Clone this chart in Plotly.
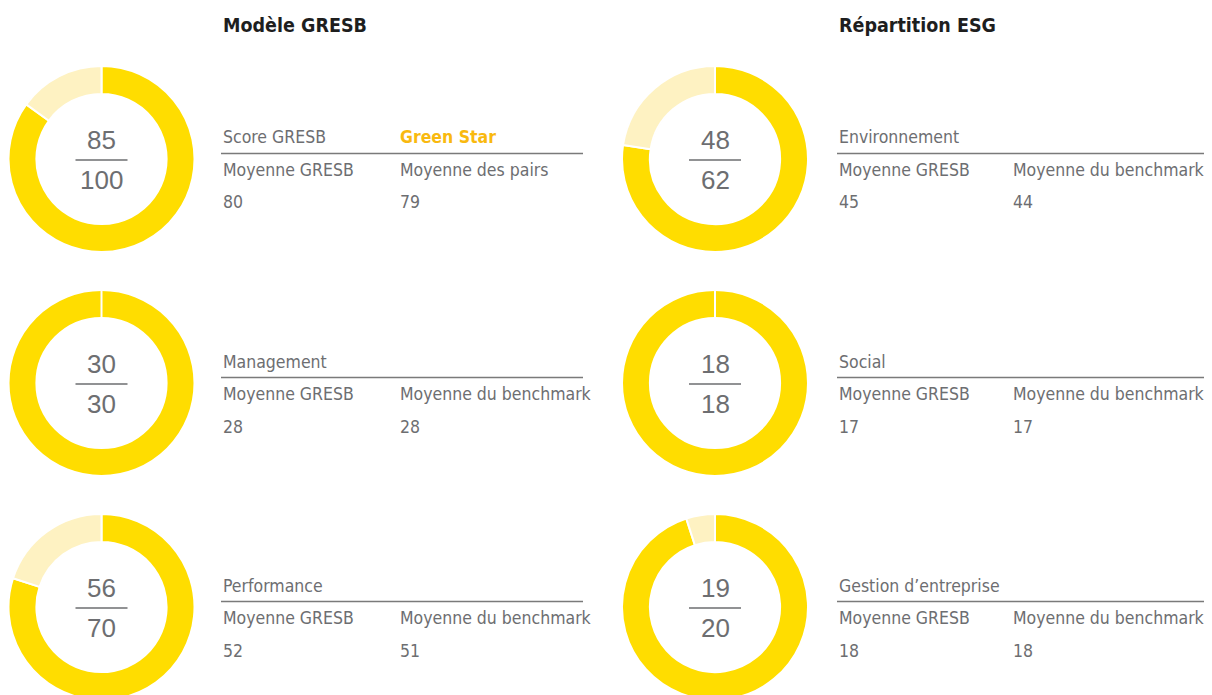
import plotly.graph_objects as go

# page body adds an 8px margin; the figure is offset by it
OX, OY = 8, 8
FW, FH = 1204, 710

# ---- data ----
panel_titles = ["Modèle GRESB", "Répartition ESG"]
left_names = ["Score GRESB", "Management", "Performance"]
left_scores = [85, 30, 56]
left_max = [100, 30, 70]
left_gresb_avg = [80, 28, 52]
left_bench_avg = [79, 28, 51]
left_col2_headers = ["Moyenne des pairs", "Moyenne du benchmark", "Moyenne du benchmark"]

right_names = ["Environnement", "Social", "Gestion d\u2019entreprise"]
right_scores = [48, 18, 19]
right_max = [62, 18, 20]
right_gresb_avg = [45, 17, 18]
right_bench_avg = [44, 17, 18]
right_col2_headers = ["Moyenne du benchmark", "Moyenne du benchmark", "Moyenne du benchmark"]

rating_label = "Green Star"
col1_header = "Moyenne GRESB"

# ---- style ----
YELLOW = "#FFDD00"
LIGHT = "#FEF2C2"
GRAY = "#6D6E71"
DARK = "#1E1E1E"
GOLD = "#F9B90F"
NARROW = "Liberation Sans Narrow, DejaVu Sans Condensed, Arial Narrow, sans-serif"
REG = "Liberation Sans, Arial, sans-serif"
LBL = 17.5

fig = go.Figure()


def px(x):
    return (x - OX) / FW


def py(y):
    return 1 - (y - OY) / FH


ROW_DY = 224
R = 93
panels = [
    dict(cx=101.5, tx=221, col2=398, line_end=583, names=left_names, scores=left_scores,
         maxs=left_max, g=left_gresb_avg, b=left_bench_avg, h2=left_col2_headers),
    dict(cx=715, tx=837, col2=1011, line_end=1212, names=right_names, scores=right_scores,
         maxs=right_max, g=right_gresb_avg, b=right_bench_avg, h2=right_col2_headers),
]

annotations = []
shapes = []

for p_i, p in enumerate(panels):
    annotations.append(dict(x=px(p["tx"]), y=py(26), xref="paper", yref="paper",
                            text="<b>%s</b>" % panel_titles[p_i], showarrow=False,
                            xanchor="left", yanchor="middle",
                            font=dict(family=NARROW, size=19.5, color=DARK)))
    for i in range(3):
        dy = ROW_DY * i
        cy = 159 + dy
        sc = p["scores"][i]
        mx = p["maxs"][i]
        fig.add_trace(go.Pie(
            values=[sc, mx - sc], labels=["Score", "Reste"],
            hole=0.70, sort=False, direction="clockwise", rotation=0,
            marker=dict(colors=[YELLOW, LIGHT], line=dict(color="white", width=2)),
            textinfo="none", hoverinfo="skip", showlegend=False,
            domain=dict(x=[px(p["cx"] - R), px(p["cx"] + R)], y=[py(cy + R), py(cy - R)]),
        ))
        # centre fraction
        annotations.append(dict(x=px(p["cx"]), y=py(cy - 19), xref="paper", yref="paper",
                                text=str(sc), showarrow=False, xanchor="center", yanchor="middle",
                                font=dict(family=REG, size=26, color=GRAY)))
        annotations.append(dict(x=px(p["cx"]), y=py(cy + 21), xref="paper", yref="paper",
                                text=str(mx), showarrow=False, xanchor="center", yanchor="middle",
                                font=dict(family=REG, size=26, color=GRAY)))
        shapes.append(dict(type="line", xref="paper", yref="paper",
                           x0=px(p["cx"] - 26), x1=px(p["cx"] + 26),
                           y0=py(cy + 1), y1=py(cy + 1),
                           line=dict(color=GRAY, width=1.5)))
        # header row
        annotations.append(dict(x=px(p["tx"]), y=py(137.5 + dy), xref="paper", yref="paper",
                                text=p["names"][i], showarrow=False, xanchor="left", yanchor="middle",
                                font=dict(family=NARROW, size=LBL, color=GRAY)))
        if p_i == 0 and i == 0:
            annotations.append(dict(x=px(p["col2"]), y=py(137.5 + dy), xref="paper", yref="paper",
                                    text="<b>%s</b>" % rating_label, showarrow=False,
                                    xanchor="left", yanchor="middle",
                                    font=dict(family=NARROW, size=LBL, color=GOLD)))
        shapes.append(dict(type="line", xref="paper", yref="paper",
                           x0=px(p["tx"]), x1=px(p["line_end"]),
                           y0=py(153.5 + dy), y1=py(153.5 + dy),
                           line=dict(color="#7A7A7A", width=1.5)))
        annotations.append(dict(x=px(p["tx"]), y=py(170 + dy), xref="paper", yref="paper",
                                text=col1_header, showarrow=False, xanchor="left", yanchor="middle",
                                font=dict(family=NARROW, size=LBL, color=GRAY)))
        annotations.append(dict(x=px(p["col2"]), y=py(170 + dy), xref="paper", yref="paper",
                                text=p["h2"][i], showarrow=False, xanchor="left", yanchor="middle",
                                font=dict(family=NARROW, size=LBL, color=GRAY)))
        annotations.append(dict(x=px(p["tx"]), y=py(202.5 + dy), xref="paper", yref="paper",
                                text=str(p["g"][i]), showarrow=False, xanchor="left", yanchor="middle",
                                font=dict(family=NARROW, size=LBL, color=GRAY)))
        annotations.append(dict(x=px(p["col2"]), y=py(202.5 + dy), xref="paper", yref="paper",
                                text=str(p["b"][i]), showarrow=False, xanchor="left", yanchor="middle",
                                font=dict(family=NARROW, size=LBL, color=GRAY)))

fig.update_layout(
    width=FW, height=FH, autosize=False,
    margin=dict(l=0, r=0, t=0, b=0),
    paper_bgcolor="white", plot_bgcolor="white",
    annotations=annotations, shapes=shapes,
    showlegend=False,
)
fig.write_html("out.html")
